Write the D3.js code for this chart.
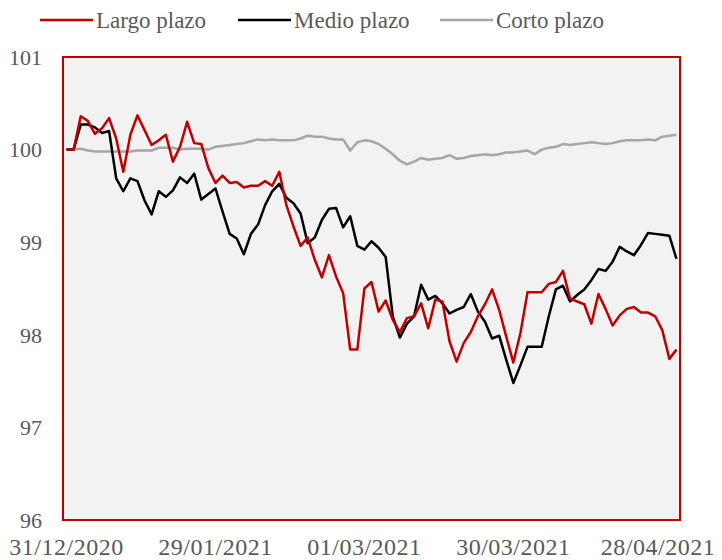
<!DOCTYPE html>
<html>
<head>
<meta charset="utf-8">
<script src="https://cdn.jsdelivr.net/npm/d3@7"></script>
<style>
    body { margin: 0; background: #fff; }
    text { font-family: "Liberation Serif", "DejaVu Serif", serif; fill: #595959; }
</style>
</head>
<body>
<div id="chart"></div>
<script>
const config = {
    width: 722,
    height: 560,
    marginTop: 57,
    marginRight: 42,
    marginBottom: 40,
    marginLeft: 63
};

const seriesNames = ['Largo plazo', 'Medio plazo', 'Corto plazo'];
const seriesColors = ['#c00000', '#000000', '#a6a6a6'];

// 87 daily points, 31/12/2020 .. end of April 2021
const largo = [
    100.00, 100.00, 100.36, 100.31, 100.17, 100.23, 100.34, 100.12, 99.76, 100.16,
    100.37, 100.21, 100.05, 100.10, 100.16, 99.87, 100.03, 100.30, 100.07, 100.06,
    99.80, 99.64, 99.72, 99.64, 99.65, 99.59, 99.61, 99.61, 99.66, 99.61,
    99.76, 99.40, 99.17, 98.96, 99.05, 98.81, 98.62, 98.86, 98.63, 98.45,
    97.84, 97.84, 98.50, 98.57, 98.25, 98.37, 98.16, 98.03, 98.18, 98.20,
    98.34, 98.07, 98.38, 98.36, 97.93, 97.71, 97.91, 98.03, 98.20, 98.33,
    98.49, 98.27, 97.98, 97.70, 98.02, 98.46, 98.46, 98.46, 98.55, 98.57,
    98.69, 98.39, 98.36, 98.33, 98.12, 98.44, 98.28, 98.10, 98.21, 98.28,
    98.30, 98.24, 98.24, 98.20, 98.05, 97.74, 97.84
];

const medio = [
    100.00, 100.00, 100.27, 100.27, 100.24, 100.18, 100.20, 99.69, 99.55, 99.69,
    99.66, 99.45, 99.30, 99.55, 99.49, 99.56, 99.70, 99.64, 99.74, 99.46,
    99.52, 99.58, 99.33, 99.09, 99.04, 98.87, 99.09, 99.19, 99.40, 99.55,
    99.63, 99.48, 99.42, 99.31, 98.99, 99.05, 99.24, 99.36, 99.37, 99.16,
    99.28, 98.96, 98.92, 99.01, 98.94, 98.84, 98.20, 97.97, 98.12, 98.20,
    98.54, 98.38, 98.42, 98.34, 98.23, 98.27, 98.30, 98.44, 98.25, 98.14,
    97.96, 97.99, 97.73, 97.48, 97.67, 97.87, 97.87, 97.87, 98.20, 98.49,
    98.53, 98.36, 98.43, 98.49, 98.59, 98.71, 98.69, 98.79, 98.95, 98.90,
    98.86, 98.97, 99.10, 99.09, 99.08, 99.07, 98.82
];

const corto = [
    100.00, 100.00, 100.01, 99.99, 99.98, 99.98, 99.98, 99.98, 99.98, 99.98,
    99.99, 99.99, 99.99, 100.02, 100.02, 100.02, 100.00, 100.01, 100.01, 100.01,
    100.00, 100.03, 100.04, 100.05, 100.06, 100.07, 100.09, 100.11, 100.10, 100.11,
    100.10, 100.10, 100.10, 100.12, 100.15, 100.14, 100.14, 100.12, 100.11, 100.11,
    99.99, 100.08, 100.10, 100.09, 100.06, 100.01, 99.95, 99.88, 99.84, 99.87,
    99.91, 99.89, 99.90, 99.91, 99.94, 99.90, 99.91, 99.93, 99.94, 99.95,
    99.94, 99.95, 99.97, 99.97, 99.98, 99.99, 99.95, 100.00, 100.02, 100.03,
    100.06, 100.05, 100.06, 100.07, 100.08, 100.07, 100.06, 100.07, 100.09, 100.10,
    100.10, 100.10, 100.11, 100.10, 100.14, 100.15, 100.16
];

const xTickIndex = [0, 21, 42, 63, 84];
const xTickLabels = ['31/12/2020', '29/01/2021', '01/03/2021', '30/03/2021', '28/04/2021'];
const yTicks = [96, 97, 98, 99, 100, 101];

const series = [largo, medio, corto];

const plotRight = 680;
const plotBottom = 520;

const svg = d3.select('#chart')
    .append('svg')
    .attr('width', config.width)
    .attr('height', config.height);

// category axis: points sit in the middle of each band
const xScale = d3.scaleBand()
    .domain(d3.range(largo.length))
    .range([config.marginLeft, plotRight]);

const xPos = i => xScale(i) + xScale.bandwidth() / 2;

const yScale = d3.scaleLinear()
    .domain([96, 101])
    .range([plotBottom, config.marginTop]);

svg.append('rect')
    .attr('x', config.marginLeft)
    .attr('y', config.marginTop)
    .attr('width', plotRight - config.marginLeft)
    .attr('height', plotBottom - config.marginTop)
    .attr('fill', '#f2f2f2')
    .attr('stroke', '#c00000')
    .attr('stroke-width', 2);

svg.append('g')
    .selectAll('text')
    .data(yTicks)
    .join('text')
    .attr('x', 42)
    .attr('y', d => yScale(d))
    .attr('dy', '0.35em')
    .attr('text-anchor', 'end')
    .attr('font-size', '22px')
    .text(d => d);

svg.append('g')
    .selectAll('text')
    .data(xTickIndex)
    .join('text')
    .attr('x', d => Math.min(xPos(d), 658))
    .attr('y', 555)
    .attr('text-anchor', 'middle')
    .attr('font-size', '24px')
    .attr('letter-spacing', '0.5px')
    .text((d, i) => xTickLabels[i]);

const line = d3.line()
    .x((d, i) => xPos(i))
    .y(d => yScale(d));

// grey first so red and black sit on top
[2, 1, 0].forEach(k => {
    svg.append('path')
        .datum(series[k])
        .attr('fill', 'none')
        .attr('stroke', seriesColors[k])
        .attr('stroke-width', 2.5)
        .attr('stroke-linejoin', 'round')
        .attr('d', line);
});

const legendX = [40, 238, 440];
const legend = svg.append('g');
seriesNames.forEach((name, k) => {
    legend.append('line')
        .attr('x1', legendX[k])
        .attr('x2', legendX[k] + 53)
        .attr('y1', 20)
        .attr('y2', 20)
        .attr('stroke', seriesColors[k])
        .attr('stroke-width', 2.5);
    legend.append('text')
        .attr('x', legendX[k] + 56)
        .attr('y', 20)
        .attr('dy', '0.35em')
        .attr('font-size', '23px')
        .text(name);
});
</script>
</body>
</html>
